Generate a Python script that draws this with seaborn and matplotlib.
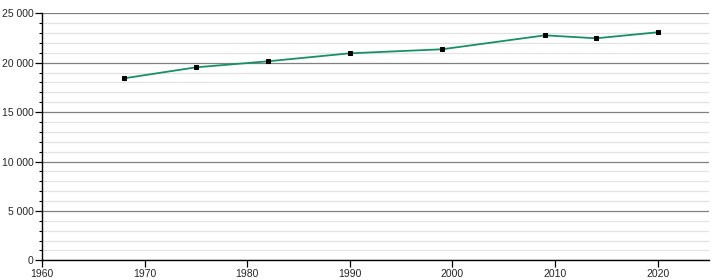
import matplotlib
matplotlib.use("Agg")
import matplotlib.pyplot as plt
from matplotlib.ticker import MultipleLocator, FuncFormatter
import seaborn as sns
import pandas as pd

years = [1968, 1975, 1982, 1990, 1999, 2009, 2014, 2020]
population = [18420, 19530, 20140, 20950, 21360, 22770, 22470, 23080]

sns.set_style("white")
plt.rcParams['font.family'] = ['Liberation Sans', 'DejaVu Sans']

df = pd.DataFrame({"year": years, "pop": population})

fig = plt.figure(figsize=(7.2, 2.8), dpi=100)
ax = fig.add_axes([42/720, 1-260.3/280, (709-42)/720, (260.3-13.3)/280])

ax.set_xlim(1960, 2025)
ax.set_ylim(0, 25000)
ax.yaxis.set_major_locator(MultipleLocator(5000))
ax.yaxis.set_minor_locator(MultipleLocator(1000))
ax.xaxis.set_major_locator(MultipleLocator(10))
ax.yaxis.set_major_formatter(FuncFormatter(lambda v, p: f"{int(v):,}".replace(",", " ")))

ax.grid(True, which="minor", axis="y", color="#e2e2e2", linewidth=0.9, zorder=0)
ax.grid(True, which="major", axis="y", color="#808080", linewidth=0.9, zorder=0)
ax.set_axisbelow(True)

sns.lineplot(data=df, x="year", y="pop", ax=ax, color="#17906a", linewidth=1.3,
             marker="s", markersize=3, markerfacecolor="black", markeredgecolor="black",
             zorder=3)

for s in ["top", "right"]:
    ax.spines[s].set_visible(False)
for s in ["left", "bottom"]:
    ax.spines[s].set_color("black")
    ax.spines[s].set_linewidth(1.0)

ax.tick_params(axis="both", which="major", direction="out", length=5, width=0.9,
               color="black", labelsize=7.5, pad=1, left=True, bottom=True)
ax.tick_params(axis="y", which="minor", direction="out", length=2.5, width=0.8,
               color="black", left=True)
ax.set_xlabel("")
ax.set_ylabel("")

fig.savefig("out.png", dpi=100)
